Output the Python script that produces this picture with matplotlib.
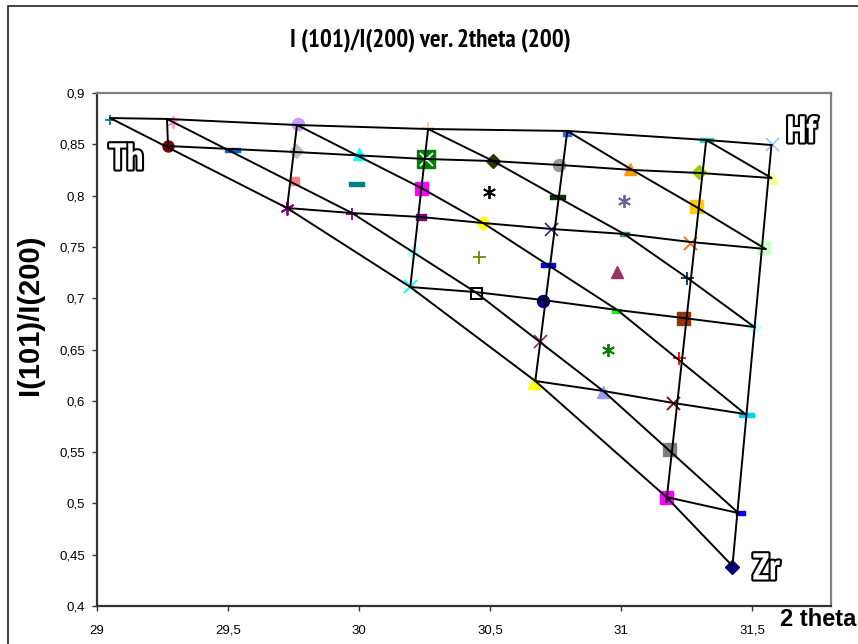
import matplotlib
matplotlib.use('Agg')
import matplotlib.pyplot as plt
import matplotlib.patheffects as pe
from matplotlib.path import Path
from matplotlib.patches import Rectangle
from matplotlib.ticker import FuncFormatter
from matplotlib import font_manager
from matplotlib.font_manager import FontProperties

# measured points: 2theta(200) vs I(101)/I(200)
pt_x = [29.050, 29.290, 29.271, 29.515, 29.767, 29.760, 29.756, 29.725,
        30.000, 29.989, 29.973, 30.263, 30.256, 30.237, 30.237, 30.206,
        30.195, 30.511, 30.496, 30.473, 30.458, 30.447, 30.794, 30.763,
        30.756, 30.733, 30.721, 30.702, 30.691, 30.668, 31.034, 31.011,
        31.011, 30.985, 30.981, 30.950, 30.931, 31.324, 31.298, 31.286,
        31.263, 31.252, 31.237, 31.221, 31.198, 31.183, 31.172, 31.576,
        31.576, 31.542, 31.508, 31.477, 31.454, 31.424]
pt_y = [0.8737, 0.8717, 0.8483, 0.8444, 0.8698, 0.8435, 0.8142, 0.7879,
        0.8405, 0.8113, 0.7821, 0.8659, 0.8357, 0.8074, 0.7791, 0.7450,
        0.7119, 0.8337, 0.8035, 0.7733, 0.7402, 0.7051, 0.8600, 0.8298,
        0.7986, 0.7674, 0.7324, 0.6973, 0.6583, 0.6183, 0.8259, 0.7947,
        0.7626, 0.7255, 0.6875, 0.6495, 0.6086, 0.8542, 0.8230, 0.7899,
        0.7538, 0.7197, 0.6807, 0.6417, 0.5979, 0.5530, 0.5062, 0.8503,
        0.8172, 0.7499, 0.6719, 0.5862, 0.4906, 0.4380]

# grid lines of the Th-Hf-Zr composition net
r1_x = [29.050, 29.267, 29.763, 30.263, 30.794, 31.324, 31.573]
r1_y = [0.8756, 0.8747, 0.8688, 0.8649, 0.8630, 0.8542, 0.8493]
r2_x = [29.271, 29.756, 30.252, 30.508, 30.767, 31.042, 31.302, 31.569]
r2_y = [0.8483, 0.8425, 0.8357, 0.8337, 0.8298, 0.8250, 0.8220, 0.8172]
r3_x = [29.725, 29.973, 30.237, 30.473, 30.737, 31.011, 31.263, 31.550]
r3_y = [0.7879, 0.7830, 0.7791, 0.7733, 0.7674, 0.7626, 0.7548, 0.7480]
r4_x = [30.195, 30.443, 30.702, 30.985, 31.237, 31.508]
r4_y = [0.7109, 0.7060, 0.6982, 0.6885, 0.6807, 0.6719]
r5_x = [30.672, 30.931, 31.198, 31.473]
r5_y = [0.6193, 0.6096, 0.5979, 0.5871]
r6_x = [31.172, 31.447]
r6_y = [0.5062, 0.4906]
v1_x = [29.267, 29.271]
v1_y = [0.8747, 0.8483]
v2_x = [29.763, 29.725]
v2_y = [0.8688, 0.7879]
v3_x = [30.263, 30.195]
v3_y = [0.8649, 0.7109]
v4_x = [30.794, 30.672]
v4_y = [0.8630, 0.6193]
v5_x = [31.324, 31.172]
v5_y = [0.8542, 0.5014]
v6_x = [31.573, 31.424]
v6_y = [0.8493, 0.4390]
d1_x = [29.050, 29.725, 30.195, 30.672, 31.172, 31.424]
d1_y = [0.8756, 0.7879, 0.7109, 0.6193, 0.5062, 0.4390]
d2_x = [29.267, 29.973, 30.443, 30.931, 31.447]
d2_y = [0.8747, 0.7830, 0.7060, 0.6096, 0.4906]
d3_x = [29.763, 30.237, 30.473, 30.985, 31.473]
d3_y = [0.8688, 0.8074, 0.7733, 0.6885, 0.5871]
d4_x = [30.263, 30.511, 30.756, 31.011, 31.252, 31.508]
d4_y = [0.8649, 0.8337, 0.7986, 0.7626, 0.7197, 0.6719]
d5_x = [30.794, 31.042, 31.286, 31.550]
d5_y = [0.8630, 0.8250, 0.7889, 0.7480]
d6_x = [31.324, 31.573]
d6_y = [0.8542, 0.8172]

x_ticks = [29, 29.5, 30, 30.5, 31, 31.5]
y_ticks = [0.4, 0.45, 0.5, 0.55, 0.6, 0.65, 0.7, 0.75, 0.8, 0.85, 0.9]

# styles (Excel-like markers)
pt_color = ['#008080', '#FF99CC', '#800000', '#0066CC', '#CC99FF', '#C0C0C0',
            '#FF8080', '#800080', '#00FFFF', '#008080', '#800080', '#FFCC99',
            '#008000', '#FF00FF', '#800080', '#CCFFFF', '#00FFFF', '#333300',
            '#000000', '#FFFF00', '#808000', '#000000', '#3366FF', '#969696',
            '#003300', '#333399', '#0000FF', '#000080', '#993366', '#FFFF00',
            '#FF9900', '#666699', '#339966', '#993366', '#00FF00', '#008000',
            '#9999FF', '#33CCCC', '#99CC00', '#FFCC00', '#FF6600', '#003366',
            '#993300', '#FF0000', '#800000', '#808080', '#FF00FF', '#99CCFF',
            '#FFFF99', '#CCFFCC', '#CCFFFF', '#00CCFF', '#0000FF', '#000080']
pt_mark = ['+', 'A', 'o', 'L', 'o', 'D', 's', 'A', '^', 'L', '+', '+',
           's', 's', 'S', 'o', 'x', 'D', 'A', 'D', '+', 'H', 'S', 'o',
           'L', 'x', 'L', 'o', 'x', '^', '^', 'A', 'S', '^', 'S', 'A',
           '^', 'L', 'D', 's', 'x', '+', 's', '+', 'x', 's', 's', 'x',
           '^', 's', 'D', 'L', 'S', 'D']
pt_px = [10, 12, 11, 15, 12, 10, 8, 14, 12, 15, 12, 12,
         18, 13, 10, 12, 13, 10, 13, 10, 13, 11, 8, 12,
         15, 13, 14, 12, 13, 13, 12, 13, 9, 12, 9, 13,
         12, 13, 10, 13, 13, 13, 13, 13, 13, 13, 13, 13,
         12, 13, 10, 15, 9, 10]

long_dash = Path([(-1, -0.33), (1, -0.33), (1, 0.33), (-1, 0.33), (-1, -0.33)], closed=True)
short_dash = Path([(-1, -0.55), (1, -0.55), (1, 0.55), (-1, 0.55), (-1, -0.55)], closed=True)
mark_map = {'+': '+', 'x': 'x', 'A': (6, 2, 0), 'o': 'o', 's': 's', 'D': 'D',
            '^': '^', 'L': long_dash, 'S': short_dash, 'H': 's'}

plt.rcParams['font.family'] = ['Liberation Sans', 'DejaVu Sans']


def find_condensed():
    # a narrow bold face looks closer to the squeezed Excel text
    best = None
    for f in font_manager.fontManager.ttflist:
        w = str(f.weight).lower()
        if w not in ('bold', '700'):
            continue
        nm = f.name + ' ' + f.fname
        if 'Narrow' in nm:
            return f.fname
        if 'Condensed' in nm or 'condensed' in str(f.stretch):
            if best is None or 'DejaVu' in nm:
                best = f.fname
    return best


cond_file = find_condensed()
if cond_file:
    cond_fp = lambda size: FontProperties(fname=cond_file, size=size)
else:
    cond_fp = lambda size: FontProperties(family='Liberation Sans', weight='bold', size=size * 0.85)

fig = plt.figure(figsize=(8.58, 6.44), dpi=100)
ax = fig.add_axes([97 / 858, 1 - 606 / 644, (831 - 97) / 858, (606 - 93) / 644])

for i in range(len(pt_x)):
    m = pt_mark[i]
    ms = pt_px[i] * 0.72
    if m == 'H':
        ax.plot(pt_x[i], pt_y[i], marker='s', ms=ms, mfc='white', mec='black',
                mew=1.4, ls='none', zorder=2)
    elif m in ('+', 'x', 'A'):
        ax.plot(pt_x[i], pt_y[i], marker=mark_map[m], ms=ms, color=pt_color[i],
                mew=1.3, ls='none', zorder=2)
    else:
        ax.plot(pt_x[i], pt_y[i], marker=mark_map[m], ms=ms, color=pt_color[i],
                mec=pt_color[i], ls='none', zorder=2)
# white cross on the big green square
ax.plot(pt_x[12], pt_y[12], marker='x', ms=13 * 0.72, color='white', mew=1.3,
        ls='none', zorder=2.5)

lines = [(r1_x, r1_y), (r2_x, r2_y), (r3_x, r3_y), (r4_x, r4_y), (r5_x, r5_y),
         (r6_x, r6_y), (v1_x, v1_y), (v2_x, v2_y), (v3_x, v3_y), (v4_x, v4_y),
         (v5_x, v5_y), (v6_x, v6_y), (d1_x, d1_y), (d2_x, d2_y), (d3_x, d3_y),
         (d4_x, d4_y), (d5_x, d5_y), (d6_x, d6_y)]
for lx, ly in lines:
    ax.plot(lx, ly, color='black', lw=1.4, zorder=3)

ax.set_xlim(29, 31.8)
ax.set_ylim(0.4, 0.9)
ax.set_xticks(x_ticks)
ax.set_yticks(y_ticks)
comma = FuncFormatter(lambda v, p: ('%g' % round(v, 3)).replace('.', ','))
ax.xaxis.set_major_formatter(comma)
ax.yaxis.set_major_formatter(comma)
ax.tick_params(axis='both', direction='out', length=3.5, width=1, colors='#333333',
               labelsize=9.5, labelcolor='black')
ax.tick_params(axis='x', pad=10)
ax.tick_params(axis='y', pad=5)
for s in ('left', 'bottom'):
    ax.spines[s].set_color('#333333')
    ax.spines[s].set_linewidth(1.6)
for s in ('top', 'right'):
    ax.spines[s].set_color('#808080')
    ax.spines[s].set_linewidth(1.6)

outline = [pe.Stroke(linewidth=3, foreground='black'), pe.Normal()]
for txt, tx, ty in [('Th', 29.111, 0.8347), ('Hf', 31.687, 0.8610), ('Zr', 31.553, 0.4351)]:
    ax.text(tx, ty, txt, fontproperties=cond_fp(27), color='white',
            ha='center', va='center', path_effects=outline, zorder=4, clip_on=False)

fig.text(0.502, 0.938, 'I (101)/I(200) ver. 2theta (200)', ha='center', va='center',
         fontproperties=cond_fp(18))
fig.text(0.035, 0.511, 'I(101)/I(200)', rotation=90, ha='center', va='center',
         fontsize=21, fontweight='bold')
fig.text(780 / 858, 1 - 619 / 644, '2 theta', ha='left', va='center',
         fontsize=17, fontweight='bold')

fig.patches.append(Rectangle((8 / 858, -0.1), 1.2, 1 - 6 / 644 + 0.1,
                             transform=fig.transFigure, fill=False,
                             edgecolor='#222222', lw=1.2))

fig.savefig('out.png', dpi=100)
